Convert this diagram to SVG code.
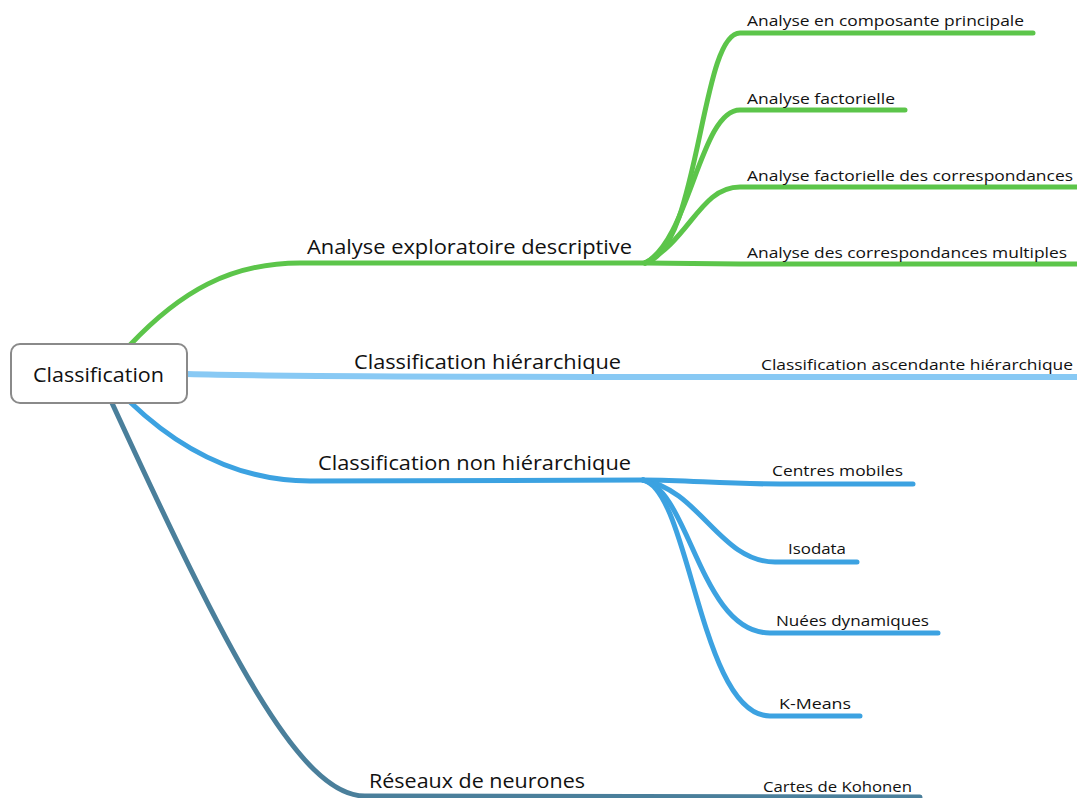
<svg xmlns="http://www.w3.org/2000/svg" width="1077" height="798" viewBox="0 0 1077 798">
<style>
.main{font-family:"Open Sans","Liberation Sans",sans-serif;font-size:20px;fill:#111}
.leaf{font-family:"Open Sans","DejaVu Sans",sans-serif;font-size:14px;fill:#111}
.c{fill:none;stroke-linecap:round;stroke-linejoin:round}
.g{stroke:#5cc54a;stroke-width:5}
.lb{stroke:#88c9f4;stroke-width:6}
.b{stroke:#3ca2e1;stroke-width:5}
.t{stroke:#4a7f9b;stroke-width:5}
</style>
<rect width="1077" height="798" fill="#fff"/>
<g id="connectors">
<path class="c g" d="M130,345 C180,292 230,263 300,263 L645,263" stroke-width="6.5"/>
<path class="c g" d="M645,263 C700,250 700,33 740,33 L1033,33"/>
<path class="c g" d="M645,263 C690,240 700,110 740,110 L905,110"/>
<path class="c g" d="M645,263 C690,240 700,187 740,187 L1080,187"/>
<path class="c g" d="M645,263 L740,264 L1080,264"/>
<path class="c lb" d="M187,374 C300,377 500,377 740,377 L1080,377"/>
<path class="c b" d="M130,402 C180,450 240,481 310,481 L643,480" stroke-width="6.5"/>
<path class="c b" d="M643,480 C690,480 720,484 780,484 L913,484"/>
<path class="c b" d="M643,480 C700,490 720,562 775,562 L857,562"/>
<path class="c b" d="M643,480 C690,490 700,633 770,633 L938,633"/>
<path class="c b" d="M643,480 C690,490 700,716 770,716 L860,716"/>
<path class="c t" d="M112,403 C227,653 300,796 365,796 L920,797" stroke-width="6.5"/>
</g>
<g id="root">
<rect x="11" y="344" width="176" height="59" rx="9" fill="#fff" stroke="#8a8a8a" stroke-width="2"/>
<text class="main" x="33" y="382" textLength="131" lengthAdjust="spacingAndGlyphs">Classification</text>
</g>
<g id="n-analyse"><text class="main" x="307" y="254" textLength="325" lengthAdjust="spacingAndGlyphs">Analyse exploratoire descriptive</text></g>
<g id="n-ch"><text class="main" x="354" y="369" textLength="267" lengthAdjust="spacingAndGlyphs">Classification hiérarchique</text></g>
<g id="n-cnh"><text class="main" x="318" y="470" textLength="313" lengthAdjust="spacingAndGlyphs">Classification non hiérarchique</text></g>
<g id="n-rn"><text class="main" x="369" y="788" textLength="216" lengthAdjust="spacingAndGlyphs">Réseaux de neurones</text></g>
<g id="l-acp"><text class="leaf" x="747" y="26" textLength="277" lengthAdjust="spacingAndGlyphs">Analyse en composante principale</text></g>
<g id="l-af"><text class="leaf" x="747" y="104" textLength="148" lengthAdjust="spacingAndGlyphs">Analyse factorielle</text></g>
<g id="l-afc"><text class="leaf" x="747" y="181" textLength="326" lengthAdjust="spacingAndGlyphs">Analyse factorielle des correspondances</text></g>
<g id="l-acm"><text class="leaf" x="747" y="258" textLength="320" lengthAdjust="spacingAndGlyphs">Analyse des correspondances multiples</text></g>
<g id="l-cah"><text class="leaf" x="761" y="370" textLength="312" lengthAdjust="spacingAndGlyphs">Classification ascendante hiérarchique</text></g>
<g id="l-cm"><text class="leaf" x="772" y="476" textLength="131" lengthAdjust="spacingAndGlyphs">Centres mobiles</text></g>
<g id="l-iso"><text class="leaf" x="788" y="554" textLength="58" lengthAdjust="spacingAndGlyphs">Isodata</text></g>
<g id="l-nd"><text class="leaf" x="776" y="626" textLength="153" lengthAdjust="spacingAndGlyphs">Nuées dynamiques</text></g>
<g id="l-km"><text class="leaf" x="779" y="709" textLength="72" lengthAdjust="spacingAndGlyphs">K-Means</text></g>
<g id="l-ck"><text class="leaf" x="763" y="792" textLength="149" lengthAdjust="spacingAndGlyphs">Cartes de Kohonen</text></g>
</svg>
